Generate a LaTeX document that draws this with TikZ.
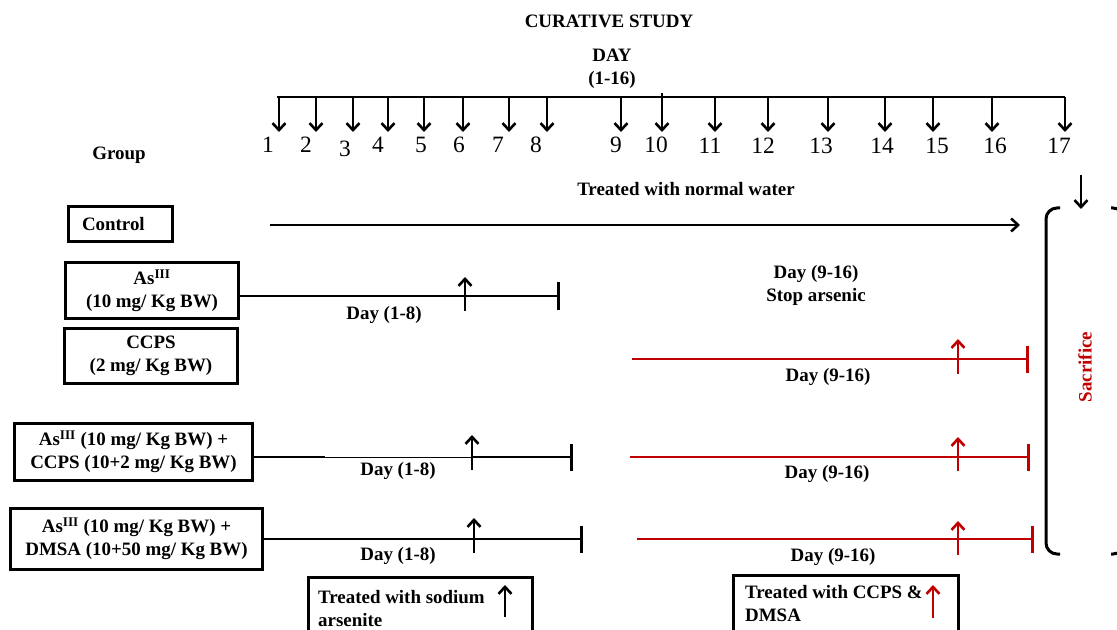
\documentclass[tikz,border=0pt]{standalone}
\usepackage{fontspec}
\setmainfont{Liberation Serif}
\usepackage{xcolor}
\usetikzlibrary{arrows.meta, positioning}
\definecolor{sacred}{RGB}{192,0,0}

\begin{document}
\begin{tikzpicture}[x=1bp, y=-1bp,
    >={Straight Barb[length=7bp, width=13bp, line width=2.6bp]},
    lbl/.style={font=\bfseries\fontsize{19}{23}\selectfont, align=center, inner sep=0pt},
    daynum/.style={font=\fontsize{23.5}{25}\selectfont, inner sep=0pt},
    groupbox/.style={draw, line width=3bp, lbl},
    tline/.style={line width=2.7bp},
    rline/.style={line width=2.7bp, draw=sacred},
    barend/.style={-{Bar[width=27bp, line width=2.7bp]}}]

    \useasboundingbox (0,0) rectangle (1117,630);

    % =================================================================
    % 1. TIEU DE VA TRUC THOI GIAN
    % =================================================================
    \node[lbl] (title) at (609,21) {CURATIVE STUDY};
    \node[lbl] (daytitle) at (612,69) {DAY\\(1-16)};

    \coordinate (AxisStart) at (277,97);
    \coordinate (AxisEnd) at (1065,97);
    \draw[tline] (AxisStart) -- (AxisEnd);

    % Cac mui ten ngay va so ngay
    \foreach \ax/\nx/\ny/\d in {279/268/145/1, 316/306/145/2, 353/345/149/3,
        388/378/145/4, 424/421/145/5, 463/459/145/6, 509/498/145/7,
        547/536/145/8, 621/616/145/9, 662/656/145/10, 715/710/146/11,
        768/763/146/12, 828/821/146/13, 885/882/146/14, 933/937/146/15,
        992/995/146/16, 1065/1059/146/17}{
        \coordinate (tick\d) at (\ax,97);
        \coordinate (tip\d) at (\ax,132);
        \node[daynum] (n\d) at (\nx,\ny) {\d};
        \draw[tline,->] (tick\d) -- (tip\d);
    }
    \draw[tline] (tick10) -- ++(0,-4);

    \node[lbl] (grouplbl) at (119,155) {Group};
    \node[lbl] (waterlbl) at (686,189) {Treated with normal water};

    % =================================================================
    % 2. CAC HOP NHOM
    % =================================================================
    \node[groupbox, minimum width=104bp, minimum height=35bp, text width=76bp, align=left] (ctrl) at (120,224.5) {Control};
    \node[groupbox, minimum width=172bp, minimum height=55bp] (asb) at (152,290.5)
        {As\textsuperscript{III}\\(10 mg/ Kg BW)};
    \node[groupbox, minimum width=172bp, minimum height=55bp] (ccps) at (151,355.5)
        {CCPS\\(2 mg/ Kg BW)};
    \node[groupbox, minimum width=237bp, minimum height=57bp] (asccps) at (133.5,451.5)
        {As\textsuperscript{III} (10 mg/ Kg BW) +\\CCPS (10+2 mg/ Kg BW)};
    \node[groupbox, minimum width=251bp, minimum height=61bp] (asdmsa) at (136.5,538.5)
        {As\textsuperscript{III} (10 mg/ Kg BW) +\\DMSA (10+50 mg/ Kg BW)};

    % =================================================================
    % 3. CAC DUONG THOI GIAN CUA NHOM
    % =================================================================
    % Nhom doi chung
    \coordinate (CtrlStart) at (270,225);
    \coordinate (CtrlEnd) at (1020,225);
    \draw[tline,->] (CtrlStart) -- (CtrlEnd);

    % Nhom As(III)
    \coordinate (AsEnd) at (560,296);
    \draw[tline, barend] (asb.east |- AsEnd) -- (AsEnd);
    \draw[tline,->] (465,311) -- (465,277);
    \node[lbl] (asday) at (384,315) {Day (1-8)};

    \node[lbl] (stoplbl) at (816,285) {Day (9-16)\\Stop arsenic};

    % Nhom CCPS
    \coordinate (CcpsStart) at (632,359);
    \coordinate (CcpsEnd) at (1029,359);
    \draw[rline, barend] (CcpsStart) -- (CcpsEnd);
    \draw[rline,->] (958,374) -- (958,339);
    \node[lbl] (ccpsday) at (828,377) {Day (9-16)};

    % Nhom As(III) + CCPS
    \coordinate (AcEnd) at (573,457);
    \draw[tline] (asccps.east |- AcEnd) -- (325,457);
    \draw[line width=1bp] (325,457) -- (472,457);
    \draw[tline, barend] (472,457) -- (AcEnd);
    \draw[tline,->] (472,470) -- (472,435);
    \node[lbl] (acday) at (398,471) {Day (1-8)};

    \coordinate (AcRedStart) at (630,457);
    \coordinate (AcRedEnd) at (1030,457);
    \draw[rline, barend] (AcRedStart) -- (AcRedEnd);
    \draw[rline,->] (958,471) -- (958,437);
    \node[lbl] (acredday) at (827,474) {Day (9-16)};

    % Nhom As(III) + DMSA
    \coordinate (AdEnd) at (583,539);
    \draw[tline, barend] (asdmsa.east |- AdEnd) -- (AdEnd);
    \draw[tline,->] (474,553) -- (474,518);
    \node[lbl] (adday) at (398,556) {Day (1-8)};

    \coordinate (AdRedStart) at (637,539);
    \coordinate (AdRedEnd) at (1034,539);
    \draw[rline, barend] (AdRedStart) -- (AdRedEnd);
    \draw[rline,->] (958,555) -- (958,521);
    \node[lbl] (adredday) at (833,557) {Day (9-16)};

    % =================================================================
    % 4. NGOAC HI SINH
    % =================================================================
    \draw[line width=3bp, rounded corners=11bp] (1060,208) -- (1046,208) -- (1046,554) -- (1060,554);
    \draw[line width=3bp, rounded corners=11bp] (1111,208) -- (1124,208) -- (1124,554) -- (1111,554);
    \coordinate (SacTop) at (1081,209);
    \draw[tline,->] (1081,175) -- (SacTop);
    \node[lbl, text=sacred, rotate=90] (sacrifice) at (1085,367) {Sacrifice};

    % =================================================================
    % 5. CHU GIAI
    % =================================================================
    \node[draw, line width=3bp, minimum width=224bp, minimum height=80bp, anchor=north west] (legas) at (307,576) {};
    \node[lbl, align=left, anchor=north west] (legastext) at ([shift={(11,14)}]legas.north west)
        {Treated with sodium\\arsenite};
    \draw[tline,->] (505,617) -- (505,585);

    \node[draw, line width=3bp, minimum width=225bp, minimum height=80bp, anchor=north west] (legcd) at (732,574) {};
    \node[lbl, align=left, anchor=north west] (legcdtext) at ([shift={(13,11)}]legcd.north west)
        {Treated with CCPS \&\\DMSA};
    \draw[rline,->] (933,618) -- (933,585);

\end{tikzpicture}
\end{document}
